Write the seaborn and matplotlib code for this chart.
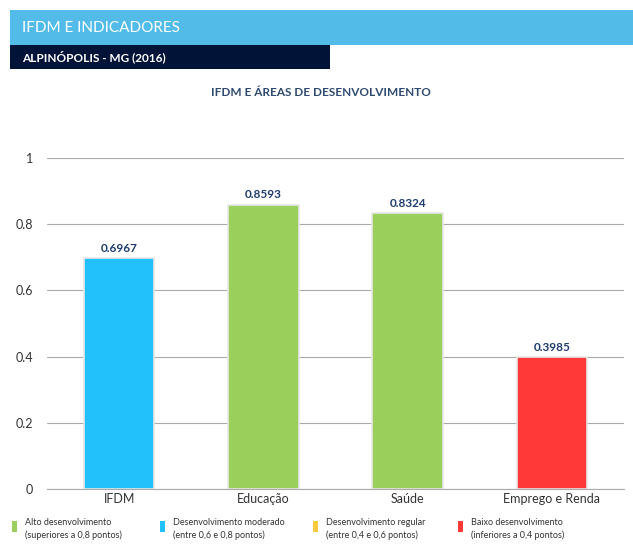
import matplotlib
matplotlib.use("Agg")
import matplotlib.pyplot as plt
from matplotlib.patches import Rectangle
import seaborn as sns
import pandas as pd

categories = ["IFDM", "Educação", "Saúde", "Emprego e Renda"]
values = [0.6967, 0.8593, 0.8324, 0.3985]
bar_colors = ["#22C1FC", "#9BCF5B", "#9BCF5B", "#FF3838"]
yticks = [0, 0.2, 0.4, 0.6, 0.8, 1]
ytick_labels = ["0", "0.2", "0.4", "0.6", "0.8", "1"]
legend_labels = ["Alto desenvolvimento\n(superiores a 0,8 pontos)",
                 "Desenvolvimento moderado\n(entre 0,6 e 0,8 pontos)",
                 "Desenvolvimento regular\n(entre 0,4 e 0,6 pontos)",
                 "Baixo desenvolvimento\n(inferiores a 0,4 pontos)"]
legend_colors = ["#9BCF5B", "#22C1FC", "#F8CB3E", "#FF3838"]

sns.set_theme(style="white")
plt.rcParams['font.family'] = ['Lato', 'DejaVu Sans']

W, H = 633, 552
fig = plt.figure(figsize=(W/100, H/100), dpi=100)

# header bars
fig.patches.append(Rectangle((10/W, 1-45/H), 1-10/W, 35/H, transform=fig.transFigure,
                             facecolor="#52BBE8", edgecolor="none", zorder=0))
fig.patches.append(Rectangle((10/W, 1-69/H), 320/W, 24/H, transform=fig.transFigure,
                             facecolor="#021338", edgecolor="none", zorder=0))
fig.text(22/W, 1-28/H, "IFDM E INDICADORES", color="white", fontsize=11, va="center", ha="left")
fig.text(22/W, 1-57/H, "ALPINÓPOLIS - MG (2016)", color="white", fontsize=8.5,
         fontweight="bold", va="center", ha="left")
fig.text(321/W, 1-92/H, "IFDM E ÁREAS DE DESENVOLVIMENTO", color="#2E4A6E", fontsize=8.5,
         fontweight="bold", va="center", ha="center")

ax = fig.add_axes([47/W, 1-489/H, 577/W, (489-158)/H])
df = pd.DataFrame({"cat": categories, "val": values})
sns.barplot(data=df, x="cat", y="val", hue="cat", palette=bar_colors, width=0.49,
            edgecolor="#E8E8E8", linewidth=1.2, legend=False, ax=ax, saturation=1)
ax.set_ylim(0, 1)
ax.set_xlim(-0.5, 3.5)
ax.set_yticks(yticks)
ax.set_yticklabels(ytick_labels, fontsize=9, color="#333333")
ax.yaxis.grid(True, color="#AAAAAA", linewidth=0.8)
ax.set_axisbelow(True)
for s in ["top", "right", "left"]:
    ax.spines[s].set_visible(False)
ax.spines["bottom"].set_color("#AAAAAA")
ax.spines["bottom"].set_linewidth(0.8)
ax.tick_params(axis="y", length=0, pad=10)
ax.set_xticks(range(len(categories)))
ax.set_xticklabels(categories, fontsize=9, color="#333333")
ax.tick_params(axis="x", length=0, pad=3)
ax.set_xticks([0.5, 1.5, 2.5, 3.5], minor=True)
ax.tick_params(axis="x", which="minor", length=5, color="#BBBBBB", width=0.8, direction="out")
ax.set_xlabel("")
ax.set_ylabel("")
for i, v in enumerate(values):
    ax.annotate(f"{v:.4f}", (i, v), xytext=(0, 3), textcoords="offset points",
                ha="center", va="bottom", fontsize=8.5, fontweight="bold", color="#1F3C6E",
                annotation_clip=False)

lx = [12, 160, 313, 458]
for x, lab, c in zip(lx, legend_labels, legend_colors):
    fig.patches.append(Rectangle((x/W, 1-532/H), 5/W, 11/H, transform=fig.transFigure,
                                 facecolor=c, edgecolor="none"))
    fig.text((x+13)/W, 1-529/H, lab, fontsize=6.5, color="#333333", va="center", ha="left",
             linespacing=1.4)

fig.savefig("out.png", dpi=100, facecolor="white")
